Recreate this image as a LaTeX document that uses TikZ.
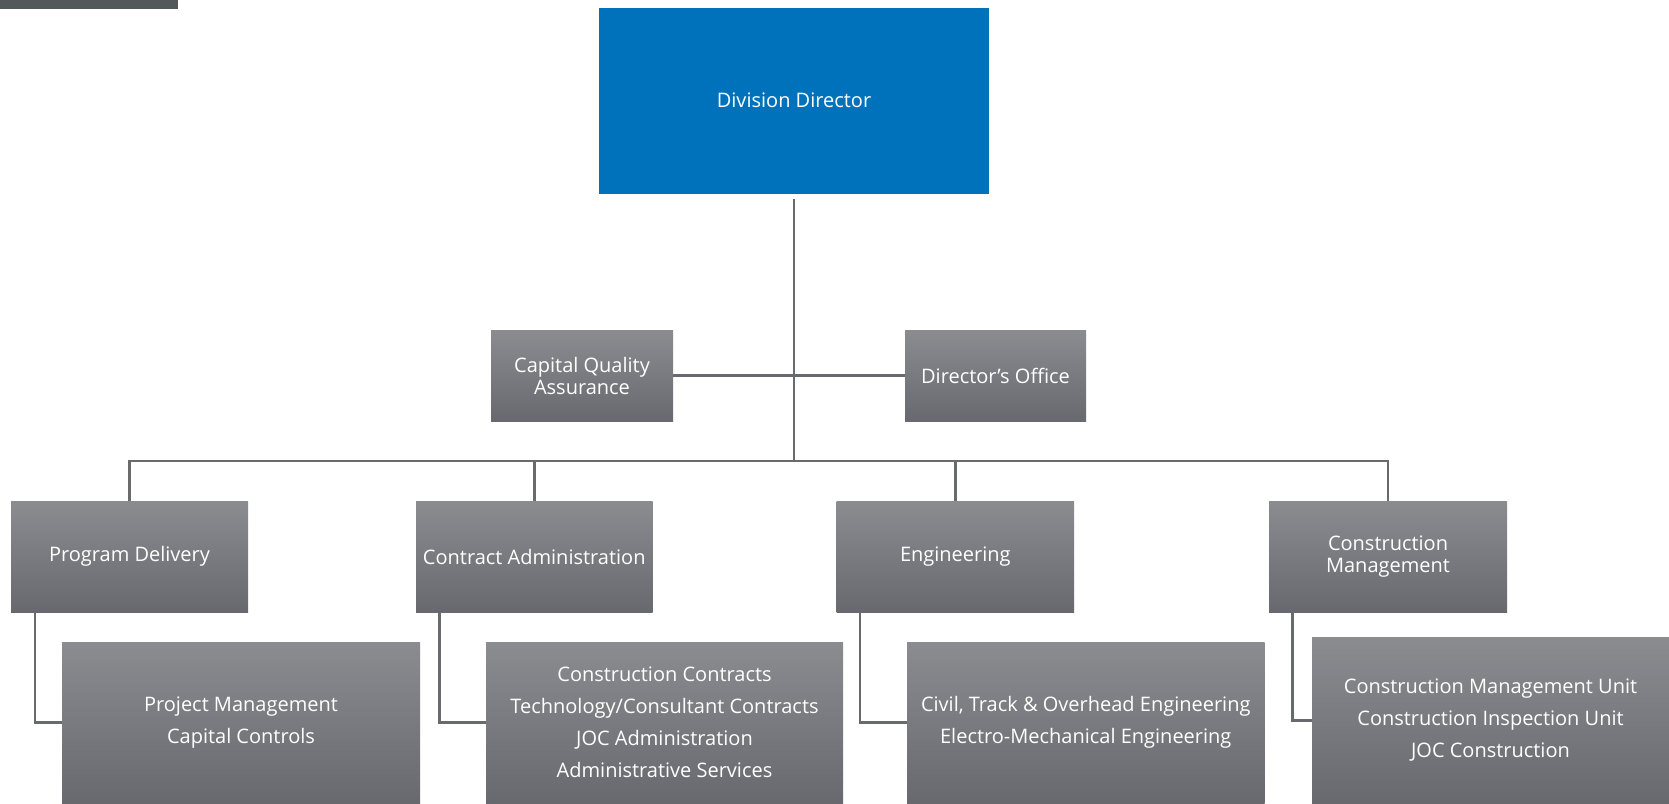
\documentclass[tikz,border=0pt]{standalone}
\usepackage{fontspec}
\setmainfont{Open Sans}
\usetikzlibrary{shadings}
\definecolor{ddblue}{RGB}{0,114,187}
\definecolor{boxtop}{RGB}{139,140,144}
\definecolor{boxbot}{RGB}{104,105,110}
\definecolor{linecol}{RGB}{105,106,110}
\definecolor{barcol}{RGB}{83,89,90}
\tikzset{
  base/.style={draw=none, inner sep=0pt, outer sep=0pt, align=center, text=white},
  hdr/.style={base, top color=boxtop, bottom color=boxbot, font=\fontsize{20}{22.4}\selectfont},
  sub/.style={base, top color=boxtop, bottom color=boxbot, font=\fontsize{20}{32}\selectfont},
  conn/.style={draw=linecol, line width=2.6pt},
}
\begin{document}
\begin{tikzpicture}[x=1pt, y=-1pt]
\useasboundingbox (0,0) rectangle (1669,803);
\fill[barcol] (0,0) rectangle (178,9);

\node[base, fill=ddblue, minimum width=390pt, minimum height=186.5pt, font=\fontsize{20}{22.4}\selectfont] (dd) at (794,100.75) {Division Director};

\node[hdr, minimum width=182pt, minimum height=91.5pt] (cqa) at (582,375.75) {Capital Quality\\Assurance};
\node[hdr, minimum width=181pt, minimum height=91.5pt] (do) at (995.5,375.75) {Director’s Office};

\node[hdr, minimum width=237pt, minimum height=111pt] (pd) at (129.5,556.5) {Program Delivery};
\node[hdr, minimum width=236.5pt, minimum height=111pt] (ca) at (534.25,556.5) {Contract Administration};
\node[hdr, minimum width=237.4pt, minimum height=111pt] (eng) at (955.3,556.5) {Engineering};
\node[hdr, minimum width=238pt, minimum height=111pt] (cm) at (1388,556.5) {Construction\\Management};

\node[sub, minimum width=358pt, minimum height=161pt] (pdsub) at (241,722.5) {Project Management\\Capital Controls};
\node[sub, minimum width=357pt, minimum height=161pt] (casub) at (664.5,722.5) {Construction Contracts\\Technology/Consultant Contracts\\JOC Administration\\Administrative Services};
\node[sub, minimum width=357.5pt, minimum height=161pt] (engsub) at (1085.75,722.5) {Civil, Track \& Overhead Engineering\\Electro-Mechanical Engineering};
\node[sub, minimum width=357pt, minimum height=165.4pt] (cmsub) at (1490.5,720.3) {Construction Management Unit\\Construction Inspection Unit\\JOC Construction};

\coordinate (bus) at (794,461);

\draw[conn, shorten <=5pt] (dd.south) -- (bus);
\draw[conn] (cqa.east) -- (do.west);
\draw[conn] (pd.north) -- (pd.north |- bus) -- (cm.north |- bus) -- (cm.north);
\draw[conn] (ca.north) -- (ca.north |- bus);
\draw[conn] (eng.north) -- (eng.north |- bus);

\draw[conn] ([xshift=24pt]pd.south west) |- (pdsub.west);
\draw[conn] ([xshift=23.6pt]ca.south west) |- (casub.west);
\draw[conn] ([xshift=23.5pt]eng.south west) |- (engsub.west);
\draw[conn] ([xshift=23.5pt]cm.south west) |- (cmsub.west);
\end{tikzpicture}
\end{document}
